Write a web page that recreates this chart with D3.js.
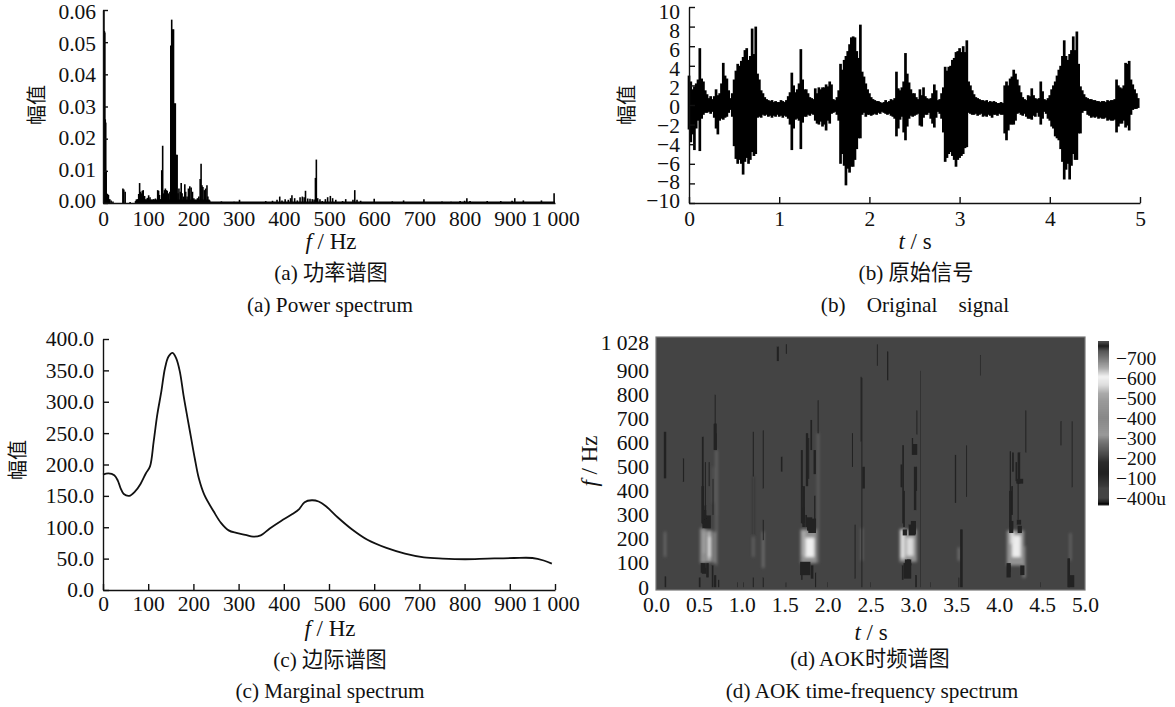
<!DOCTYPE html>
<html>
<head>
<meta charset="utf-8">
<script src="https://cdnjs.cloudflare.com/ajax/libs/d3/7.8.5/d3.min.js"></script>
<style>
    html, body { margin: 0; padding: 0; background: #fff; }
    text { font-family: "Liberation Serif", "Noto Sans CJK SC", serif; fill: #111; }
    .domain, .tick line { stroke: #111; stroke-width: 1.4; }
    .tick text { font-size: 21.5px; }
    .cap { font-size: 21.2px; text-anchor: middle; white-space: pre; }
    .lab { font-size: 23px; text-anchor: middle; }
    .cjk { font-size: 20px; text-anchor: middle; }
</style>
</head>
<body>
<svg id="canvas" width="1175" height="707"></svg>
<script>
// (a) power spectrum
var specFreq = [2,3,4,5,6,7,8,10,12,15,18,22,44,46,49,60,72,76,79,81,83,85,87,89,92,95,98,101,104,108,112,116,119,121,123,125,127,
    130,132,134,136,138,140,142,145,148,150,152,154,156,158,160,162,164,166,168,171,173,175,178,181,183,186,189,192,195,198,201,205,209,212,
    215,217,219,221,224,227,230,232,236,250,262,272,290,302,320,360,375,385,391,396,403,410,415,418,424,430,436,441,445,448,453,458,463,467,
    470,472,475,480,485,492,497,503,508,515,530,537,553,557,562,570,600,640,665,710,750,770,790,800,805,812,850,880,905,911,930,970,998];
var specAmp = [.06,.0535,.053,.026,.025,.01,.003,.0028,.0025,.0012,.0008,.0005,.0045,.0042,.0035,.0003,.0006,.0012,.0028,.0062,.0035,.003,.0038,.004,.0022,.0012,.0016,.0024,.0018,.001,.0012,.0014,.0008,.004,.0038,.0025,.0012,
    .0102,.0178,.003,.004,.0045,.004,.0038,.003,.0035,.049,.057,.054,.054,.031,.031,.015,.015,.003,.0045,.0035,.0062,.003,.002,.0058,.0035,.002,.0045,.0052,.0048,.0035,.0015,.001,.0015,.002,
    .0075,.0122,.0055,.005,.004,.0045,.0055,.002,.0008,.0003,.0005,.0003,.0004,.001,.0003,.0006,.0007,.001,.002,.0008,.0012,.001,.0015,.0024,.0015,.0008,.0018,.002,.0018,.0038,.0014,.0013,.0012,.0011,
    .0078,.0135,.0015,.0012,.0006,.0012,.0018,.0022,.0015,.001,.0006,.0012,.001,.004,.001,.0007,.0013,.0005,.0008,.0012,.0005,.0004,.0006,.0007,.0015,.0006,.0006,.0006,.0007,.0015,.0008,.0008,.003];
var floorFreq = [72,236,237,1000];
var floorAmp = [.0011,.0011,.0005,.0005];
var specTicksX = [0,100,200,300,400,500,600,700,800,900,1000];
var specTicksY = [0,.01,.02,.03,.04,.05,.06];

// (b) original signal, top and bottom of the trace every 0.02 s
var sigHi = [3,2.4,1.6,1.9,2.2, 2.6,5.8,2.7,2.4,1.5, 1.1,.7,.9,.6,.9, 1.6,1,1.2,2.2,4.3, 3,2.7,1.5,.7,1.2,
    2.6,3.5,4.2,4,4.5, 4.9,5.6,5.8,4.6,5, 7.8,5.2,8,3.2,2.6, 1.5,1.2,.8,.6,.5, .4,.5,.3,.4,.3,
    .3,.5,.4,.3,.5, .9,1.3,3.3,2,1.3, 1.6,2.2,5.7,2.6,1.6, 1.6,1.2,.8,.7,.6, 1.7,1.2,1.8,1.6,1.8,
    1.8,2.1,1.9,2.4,2.1, .6,.5,.8,1.5,4.2, 3.6,4.6,5,5.5,6.2, 6.9,7,6.9,5.5,4.8, 8.2,3.4,2.9,2.2,1.6,
    1.2,.8,.6,.5,.4, .4,.3,.2,.3,.5, .3,.4,.6,.5,.7, 3.4,1.7,1.5,1.8,2.4, 5.3,3.2,2.3,1.6,1.2,
    1.2,.8,.6,1.6,1, 1.8,.9,.7,.6,.7, 1.2,2.1,1.5,.5,.6, 1.2,1.8,3.9,3.5,3.9, 4,4.6,4.8,5.4,5.5,
    5.8,5.4,6,5.4,6.6, 2.4,2,1.5,1.1,.8, .7,.6,.5,.5,.4, .5,.3,.4,.3,.4, .3,.2,.2,.3,.2,
    2,2.4,2,2.7,2.9, 3.6,3.2,2.6,2,1.3, .8,.6,.5,1,.9, 1.7,1,.7,.6,.7, 2.4,1.4,.6,.5,.7,
    1,1.6,2,2.4,3, 3.6,4,5,6.6,5, 4.6,5.2,5.6,7,5.6, 7.5,4.2,1.9,1.5,1.1, .8,.7,.6,.6,.5,
    .5,.4,.4,.3,.4, .4,.3,.5,.4,.5, .5,.6,2.6,2,1.8, 1.7,2,4.3,4.2,4.5, 2.6,2.1,1.6,1.2,.7];
var sigLo = [-2.5,-3.8,-3,-4.6,-2.4, -1.6,-4.7,-1.4,-1,-.8, -.8,-.7,-.9,-.7,-1.3, -2.4,-3,-1.6,-1.4,-1.5, -1.3,-1.2,-.8,-.5,-1.2,
    -4.2,-5.5,-6,-5.6,-6, -7.1,-5.8,-5.4,-6,-5.6, -4.8,-5.2,-5,-1.3,-1.2, -1.3,-1,-1.1,-1,-1.2, -1.1,-1.3,-1.1,-1.2,-1,
    -1.2,-1.1,-1.3,-1.1,-1.2, -1.4,-2,-4.6,-2.4,-1.5, -1.4,-1.6,-4.5,-1.8,-1.2, -1.2,-1,-1.1,-.9,-1, -1.6,-1.9,-2,-1.7,-2.2,
    -2,-2.6,-1.6,-1.9,-.9, -.8,-.7,-1,-1.6,-6, -5,-6.2,-8.2,-6.5,-6.9, -6.3,-6.3,-5.6,-4.5,-3.4, -3.4,-1,-.8,-1.2,-1,
    -1,-1.1,-1,-.9,-1, -.8,-.9,-.7,-.8,-.9, -1,-.9,-1.1,-1.2,-1.4, -3.2,-2.4,-1.5,-1.2,-2.8, -3.6,-2.2,-1.4,-1.1,-1.2,
    -1.1,-1,-.9,-2.1,-2.2, -1.3,-1,-1,-.8,-1.4, -1.9,-2.3,-1.3,-.7,-.9, -1.4,-2.8,-5.8,-5.4,-5, -4.8,-5.2,-5.6,-6.3,-5.6,
    -5.4,-5.2,-5,-4.4,-4.3, -.8,-.9,-1,-1,-.9, -1.1,-1,-.9,-1.2,-1.1, -1.2,-1,-1.1,-1.3,-1, -1,-1.1,-.9,-1,-1,
    -2.9,-3.6,-2.6,-2,-2, -2,-1.6,-.9,-.8,-1, -1.1,-.9,-1.2,-1.4,-1.4, -1.5,-1.1,-1.2,-.8,-1.2, -2,-1.4,-.7,-.9,-1.4,
    -1.6,-2.2,-2.4,-3.2,-3.4, -3.6,-4.5,-5.8,-7.6,-6.6, -6,-7.6,-6.2,-5,-5.6, -5.6,-2.9,-2.9,-.8,-.6, -.6,-1,-1.1,-1.3,-1.2,
    -1.3,-1.2,-1.4,-1.3,-1.4, -1.4,-1.3,-1.6,-1.5,-1.6, -1.6,-1.5,-2.8,-2.2,-1.9, -1.9,-1.6,-2.3,-2.1,-2.6, -1,-.5,-.4,-.4,-.3];
var sigStep = 0.02;
var sigTicksX = [0,1,2,3,4,5];
var sigTicksY = [-10,-8,-6,-4,-2,0,2,4,6,8,10];

// (c) marginal spectrum
var margFreq = [0,12,25,33,39,46,58,71,83,95,104,112,120,129,137,145,154,162,170,178,187,195,203,212,224,245,261,278,295,315,332,349,369,394,419,434,446,462,477,494,519,552,585,627,668,710,751,801,851,909,950,975,993];
var margAmp = [184,186,183,174,162,153,150,157,169,186,197,236,279,316,353,372,378,369,348,311,274,242,210,178,152,125,107,95,91,88,85,87,98,110,121,129,140,143,141,133,116,96,80,67,58,52,50,49,50,51,51,47,42];
var margTicksY = [0,50,100,150,200,250,300,350,400];

// (d) AOK spectrum. patches of the picture: time, width, low f, high f
var darkCells = [
    [.105,.026,452,646],[.11,.018,0,45],[.32,.014,438,535],
    [.545,.022,265,625],[.575,.012,300,520],[.59,.1,245,298],[.565,.04,280,320],[.69,.012,640,800],[.69,.036,570,680],[.665,.01,300,450],
    [.55,.06,60,100],[.6,.03,40,100],[.51,.02,0,40],[.56,.05,55,80],[.69,.025,0,50],[.73,.015,0,30],[.66,.02,0,90],[.62,.012,420,520],
    [.535,.02,60,100],[.6,.06,245,285],[.545,.03,265,420],[.575,.02,260,340],[.7,.02,570,640],
    [1.135,.012,460,646],[1.135,.012,0,40],[1.25,.012,410,652],[1.25,.012,195,280],[1.25,.012,0,40],[1.465,.018,480,542],[.95,.008,0,20],[1.02,.008,0,20],[1.515,.008,0,20],
    [1.7,.022,265,570],[1.81,.02,570,695],[1.76,.028,420,640],[1.85,.028,470,570],[1.89,.012,640,777],[1.82,.09,225,285],[1.72,.03,250,330],
    [1.74,.12,50,105],[1.82,.03,35,90],[1.7,.016,30,60],[1.86,.014,0,60],
    [1.72,.03,265,420],[1.78,.012,450,620],[1.79,.06,235,290],[1.75,.02,250,300],[1.85,.015,280,380],
    [2.32,.012,35,260],[2.29,.012,500,640],[2.4,.012,0,870],[2.42,.03,410,500],[2.0,.006,0,20],
    [2.88,.02,265,590],[2.86,.02,415,510],[3.04,.012,635,735],[3.02,.05,550,595],[3.02,.03,320,500],[2.9,.05,215,240],[2.985,.08,215,260],
    [2.93,.09,35,100],[2.95,.05,90,115],[2.875,.02,30,90],[3.03,.02,0,50],[3.08,.006,0,900],[2.5,.006,0,20],
    [2.93,.06,90,115],[3.03,.025,400,500],[2.89,.02,250,400],[3,.06,220,275],[2.99,.015,550,620],
    [3.49,.015,350,550],[3.62,.01,375,590],[3.56,.03,0,240],[3.53,.01,0,40],[3.2,.006,0,20],
    [4.13,.015,275,565],[4.23,.03,430,560],[4.31,.012,560,735],[4.24,.08,430,450],[4.14,.05,225,275],[4.24,.05,225,255],
    [4.11,.05,40,100],[4.27,.05,50,90],[4.15,.02,300,420],[4.48,.006,0,20],
    [4.13,.03,250,400],[4.22,.012,280,430],[4.2,.02,440,520],[4.16,.02,480,560],[4.12,.03,60,90],[4.23,.05,260,280],
    [4.72,.012,590,690],[4.85,.01,415,690],[4.81,.03,0,120],[4.84,.07,0,50],
    [1.42,.025,940,1000],[1.52,.012,970,1010],[2.58,.01,920,1010],[2.7,.015,860,980],[3.78,.008,880,965],[2.39,.012,605,875]
];
// same, with the level of the patch at the end
var lightCells = [
    [.105,.014,126,230,300],
    [.55,.07,100,245,430],[.62,.06,105,235,520],[.68,.03,100,230,400],[.625,.024,125,210,610],[.56,.024,140,230,510],
    [.705,.012,295,570,300],[.705,.014,90,295,290],[.665,.012,350,500,250],
    [1.135,.014,126,210,290],[1.25,.016,80,230,430],[1.135,.006,210,460,120],
    [1.78,.19,100,240,440],[1.79,.11,125,205,600],[1.72,.05,130,235,520],[1.89,.012,100,640,290],
    [2.4,.01,110,245,500],[2.94,.2,105,240,450],[2.96,.08,130,205,620],[2.875,.05,120,240,570],
    [3.53,.016,110,165,360],[4.19,.2,90,235,450],[4.2,.1,125,215,610],[4.15,.04,180,235,570],[4.29,.03,40,170,420],
    [4.83,.012,110,225,400]
];
var heatTicksX = [0,.5,1,1.5,2,2.5,3,3.5,4,4.5,5];
var heatTicksY = [0,100,200,300,400,500,600,700,800,900,1028];

// colour bar, level against grey
var barLevel = [-35,-30,-20,0,50,60,120,130,180,232,282,315,398,482,523,565,607,650,700,735,760,785];
var barGrey = ["#333","#000","#222","#444","#444","#3a3a3a","#222","#222","#2c2c2c","#555","#777","#999","#888","#999","#aaa","#ddd","#f2f2f2","#aaa","#777","#555","#1e1e1e","#555"];
var barTicks = [700,600,500,400,300,200,100,0];
var heatBackground = 45;
var darkLevel = 125;

var svg = d3.select("#canvas");

function thousands(d){
    if(d >= 1000) return "1 " + String(d).slice(1);
    return String(d);
}
function minus(d){
    return String(d).replace("-", "\u2212");
}
function addText(cls, x, y, str){
    return svg.append("text").attr("class", cls).attr("x", x).attr("y", y).text(str);
}
function addRotated(cls, x, y, str){
    return svg.append("text").attr("class", cls)
        .attr("transform", "translate(" + x + "," + y + ") rotate(-90)").text(str);
}
function addUnit(t, first, rest){
    t.append("tspan").style("font-style", "italic").text(first);
    t.append("tspan").text(rest);
}
// tick labels sit a little closer together than the ticks in the picture
function nudge(g, scale, labelScale){
    g.selectAll(".tick text").attr("y", function(d){return labelScale(d) - scale(d);});
}

/****************************
 *      (a) Power spectrum  *
 ***************************/
var xA = d3.scaleLinear().domain([0, 1000]).range([103, 555]);
var yA = d3.scaleLinear().domain([0, .06]).range([203, 10]);

svg.append("path")
    .attr("d", d3.area().x(function(d){return xA(d);}).y0(yA(0))
        .y1(function(d,i){return yA(floorAmp[i]);})(floorFreq))
    .attr("fill", "#000");
svg.append("g").selectAll("line").data(specFreq).enter().append("line")
    .attr("x1", function(d){return xA(d);}).attr("x2", function(d){return xA(d);})
    .attr("y1", yA(0)).attr("y2", function(d,i){return yA(specAmp[i]);})
    .attr("stroke", "#000").attr("stroke-width", 1.6);

svg.append("g").attr("transform", "translate(0," + yA(0) + ")")
    .call(d3.axisBottom(xA).tickValues(specTicksX).tickFormat(thousands).tickSize(0).tickPadding(8).tickSizeOuter(0));
var ayA = svg.append("g").attr("transform", "translate(" + xA(0) + ",0)")
    .call(d3.axisLeft(yA).tickValues(specTicksY).tickFormat(d3.format(".2f")).tickSize(-5).tickPadding(7).tickSizeOuter(0));
nudge(ayA, yA, d3.scaleLinear().domain([0, .06]).range([201, 12]));
addRotated("cjk", 44, 105, "幅值");
addUnit(addText("lab", 331, 249, ""), "f", " / Hz");
addText("cap", 331, 280, "(a) 功率谱图");
addText("cap", 330, 312, "(a) Power spectrum");

/****************************
 *      (b) Original signal *
 ***************************/
var xB = d3.scaleLinear().domain([0, 5]).range([689, 1140]);
var yB = d3.scaleLinear().domain([-10, 10]).range([203, 7]);

svg.append("g").selectAll("line").data(sigHi).enter().append("line")
    .attr("x1", function(d,i){return xB(i * sigStep);}).attr("x2", function(d,i){return xB(i * sigStep);})
    .attr("y1", function(d,i){return yB(sigLo[i]);}).attr("y2", function(d){return yB(d);})
    .attr("stroke", "#000").attr("stroke-width", 2.7);

svg.append("g").attr("transform", "translate(0," + yB(-10) + ")")
    .call(d3.axisBottom(xB).tickValues(sigTicksX).tickFormat(String).tickSize(-6).tickPadding(8).tickSizeOuter(0));
var ayB = svg.append("g").attr("transform", "translate(" + xB(0) + ",0)")
    .call(d3.axisLeft(yB).tickValues(sigTicksY).tickFormat(minus).tickSize(-6).tickPadding(9).tickSizeOuter(0));
nudge(ayB, yB, d3.scaleLinear().domain([-10, 10]).range([201, 12]));
addRotated("cjk", 634, 105, "幅值");
addUnit(addText("lab", 915, 249, ""), "t", " / s");
addText("cap", 916, 280, "(b) 原始信号");
addText("cap", 915, 312, "(b)    Original    signal");

/****************************
 *      (c) Marginal spectrum
 ***************************/
var xC = d3.scaleLinear().domain([0, 1000]).range([103, 555]);
var yC = d3.scaleLinear().domain([0, 400]).range([590, 339]);

svg.append("path")
    .attr("d", d3.line().curve(d3.curveCatmullRom).x(function(d){return xC(d);})
        .y(function(d,i){return yC(margAmp[i]);})(margFreq))
    .attr("fill", "none").attr("stroke", "#111").attr("stroke-width", 1.8);

svg.append("g").attr("transform", "translate(0," + yC(0) + ")")
    .call(d3.axisBottom(xC).tickValues(specTicksX).tickFormat(thousands).tickSize(-6).tickPadding(6).tickSizeOuter(0));
svg.append("g").attr("transform", "translate(" + xC(0) + ",0)")
    .call(d3.axisLeft(yC).tickValues(margTicksY).tickFormat(d3.format(".1f")).tickSize(-6).tickPadding(9).tickSizeOuter(0));
addRotated("cjk", 25, 460, "幅值");
addUnit(addText("lab", 330, 636, ""), "f", " / Hz");
addText("cap", 330, 667, "(c) 边际谱图");
addText("cap", 330, 698, "(c) Marginal spectrum");

/****************************
 *      (d) AOK spectrum    *
 ***************************/
var xD = d3.scaleLinear().domain([0, 5]).range([656, 1085]);
var yD = d3.scaleLinear().domain([-12, 1040]).range([590, 337]);
var grey = d3.scaleLinear().domain(barLevel).range(barGrey);

var defs = svg.append("defs");
defs.append("filter").attr("id", "softDark").attr("x", "-10%").attr("y", "-10%").attr("width", "120%").attr("height", "120%")
    .append("feGaussianBlur").attr("stdDeviation", .5);
defs.append("filter").attr("id", "softLight").attr("x", "-10%").attr("y", "-10%").attr("width", "120%").attr("height", "120%")
    .append("feGaussianBlur").attr("stdDeviation", 1.4);
defs.append("clipPath").attr("id", "heatClip").append("rect")
    .attr("x", xD(0)).attr("y", yD(1040)).attr("width", xD(5) - xD(0)).attr("height", yD(-12) - yD(1040));

svg.append("rect").attr("x", xD(0)).attr("y", yD(1040))
    .attr("width", xD(5) - xD(0)).attr("height", yD(-12) - yD(1040))
    .attr("fill", grey(heatBackground));

function drawCells(cells, filterId, fill){
    svg.append("g").attr("clip-path", "url(#heatClip)").append("g").attr("filter", "url(#" + filterId + ")")
        .selectAll("rect").data(cells).enter().append("rect")
        .attr("x", function(d){return xD(d[0] - d[1] / 2);})
        .attr("width", function(d){return xD(d[1]) - xD(0);})
        .attr("y", function(d){return yD(d[3]);})
        .attr("height", function(d){return yD(d[2]) - yD(d[3]);})
        .attr("fill", fill);
}
drawCells(lightCells, "softLight", function(d){return grey(d[4]);});
drawCells(darkCells, "softDark", grey(darkLevel));

svg.append("rect").attr("x", xD(0)).attr("y", yD(1040))
    .attr("width", xD(5) - xD(0)).attr("height", yD(-12) - yD(1040))
    .attr("fill", "none").attr("stroke", "#777").attr("stroke-width", 1.2);

var axD = svg.append("g").attr("transform", "translate(0," + yD(-12) + ")")
    .call(d3.axisBottom(xD).tickValues(heatTicksX).tickFormat(d3.format(".1f")).tickSize(0).tickPadding(7));
axD.select(".domain").remove();
var ayD = svg.append("g").attr("transform", "translate(" + xD(0) + ",0)")
    .call(d3.axisLeft(yD).tickValues(heatTicksY).tickFormat(thousands).tickSize(0).tickPadding(7));
ayD.select(".domain").remove();
ayD.selectAll(".tick text").filter(function(d){return d == 1028;}).attr("y", 3);
addUnit(addRotated("lab", 597, 461, ""), "f", " / Hz");
addUnit(addText("lab", 871, 640, ""), "t", " / s");
addText("cap", 870, 666, "(d) AOK时频谱图");
addText("cap", 872, 698, "(d) AOK time-frequency spectrum");

// colour bar, one thin rect per step of the level range
var yBar = d3.scaleLinear().domain([-35, 785]).range([505, 341]);
svg.append("g").selectAll("rect").data(d3.range(-35, 785, 5)).enter().append("rect")
    .attr("x", 1098).attr("width", 11)
    .attr("y", function(d){return yBar(d + 5);})
    .attr("height", function(d){return yBar(d) - yBar(d + 5) + .5;})
    .attr("fill", function(d){return grey(d);});
var ayBar = svg.append("g").attr("transform", "translate(1109,0)")
    .call(d3.axisRight(yBar).tickValues(barTicks).tickSize(0).tickPadding(7)
        .tickFormat(function(d){return d ? "\u2212" + d : "\u2212400u";}));
ayBar.select(".domain").remove();
ayBar.selectAll("text").style("font-size", "19.5px");
</script>
</body>
</html>
